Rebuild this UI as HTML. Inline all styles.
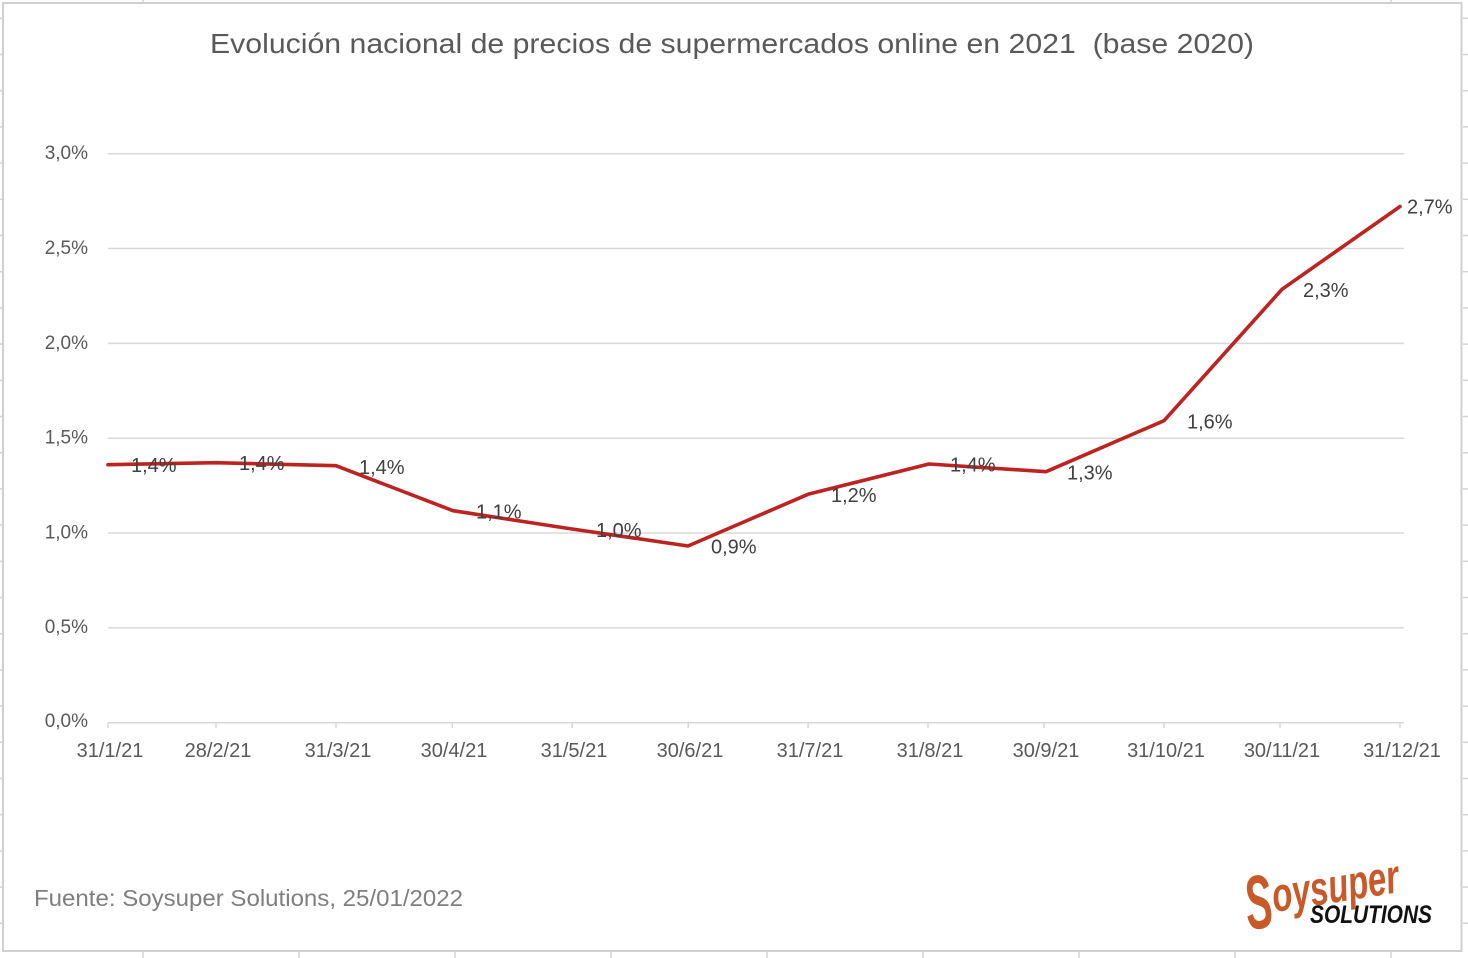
<!DOCTYPE html>
<html>
<head>
<meta charset="utf-8">
<style>
html,body{margin:0;padding:0;background:#fff;}
svg{display:block;}
text{font-family:"Liberation Sans",sans-serif;}
</style>
</head>
<body>
<svg width="1468" height="958" viewBox="0 0 1468 958" xmlns="http://www.w3.org/2000/svg">
<rect x="0" y="0" width="1468" height="958" fill="#fff"/>
<!-- spreadsheet grid stubs outside chart -->
<g stroke="#d4d4d4" stroke-width="1.5">
  <line x1="143" y1="0" x2="143" y2="3"/>
  <line x1="1391" y1="0" x2="1391" y2="3"/>
  <line x1="143" y1="952" x2="143" y2="958"/>
  <line x1="299" y1="952" x2="299" y2="958"/>
  <line x1="455" y1="952" x2="455" y2="958"/>
  <line x1="611" y1="952" x2="611" y2="958"/>
  <line x1="767" y1="952" x2="767" y2="958"/>
  <line x1="923" y1="952" x2="923" y2="958"/>
  <line x1="1079" y1="952" x2="1079" y2="958"/>
  <line x1="1235" y1="952" x2="1235" y2="958"/>
  <line x1="1391" y1="952" x2="1391" y2="958"/>
  <g>
    <line x1="0" y1="18.3" x2="3" y2="18.3"/><line x1="1463" y1="18.3" x2="1468" y2="18.3"/>
    <line x1="0" y1="54.5" x2="3" y2="54.5"/><line x1="1463" y1="54.5" x2="1468" y2="54.5"/>
    <line x1="0" y1="90.7" x2="3" y2="90.7"/><line x1="1463" y1="90.7" x2="1468" y2="90.7"/>
    <line x1="0" y1="126.9" x2="3" y2="126.9"/><line x1="1463" y1="126.9" x2="1468" y2="126.9"/>
    <line x1="0" y1="163.1" x2="3" y2="163.1"/><line x1="1463" y1="163.1" x2="1468" y2="163.1"/>
    <line x1="0" y1="199.3" x2="3" y2="199.3"/><line x1="1463" y1="199.3" x2="1468" y2="199.3"/>
    <line x1="0" y1="235.5" x2="3" y2="235.5"/><line x1="1463" y1="235.5" x2="1468" y2="235.5"/>
    <line x1="0" y1="271.7" x2="3" y2="271.7"/><line x1="1463" y1="271.7" x2="1468" y2="271.7"/>
    <line x1="0" y1="307.9" x2="3" y2="307.9"/><line x1="1463" y1="307.9" x2="1468" y2="307.9"/>
    <line x1="0" y1="344.1" x2="3" y2="344.1"/><line x1="1463" y1="344.1" x2="1468" y2="344.1"/>
    <line x1="0" y1="380.3" x2="3" y2="380.3"/><line x1="1463" y1="380.3" x2="1468" y2="380.3"/>
    <line x1="0" y1="416.5" x2="3" y2="416.5"/><line x1="1463" y1="416.5" x2="1468" y2="416.5"/>
    <line x1="0" y1="452.7" x2="3" y2="452.7"/><line x1="1463" y1="452.7" x2="1468" y2="452.7"/>
    <line x1="0" y1="488.9" x2="3" y2="488.9"/><line x1="1463" y1="488.9" x2="1468" y2="488.9"/>
    <line x1="0" y1="525.1" x2="3" y2="525.1"/><line x1="1463" y1="525.1" x2="1468" y2="525.1"/>
    <line x1="0" y1="561.3" x2="3" y2="561.3"/><line x1="1463" y1="561.3" x2="1468" y2="561.3"/>
    <line x1="0" y1="597.5" x2="3" y2="597.5"/><line x1="1463" y1="597.5" x2="1468" y2="597.5"/>
    <line x1="0" y1="633.7" x2="3" y2="633.7"/><line x1="1463" y1="633.7" x2="1468" y2="633.7"/>
    <line x1="0" y1="669.9" x2="3" y2="669.9"/><line x1="1463" y1="669.9" x2="1468" y2="669.9"/>
    <line x1="0" y1="706.1" x2="3" y2="706.1"/><line x1="1463" y1="706.1" x2="1468" y2="706.1"/>
    <line x1="0" y1="742.3" x2="3" y2="742.3"/><line x1="1463" y1="742.3" x2="1468" y2="742.3"/>
    <line x1="0" y1="778.5" x2="3" y2="778.5"/><line x1="1463" y1="778.5" x2="1468" y2="778.5"/>
    <line x1="0" y1="814.7" x2="3" y2="814.7"/><line x1="1463" y1="814.7" x2="1468" y2="814.7"/>
    <line x1="0" y1="850.9" x2="3" y2="850.9"/><line x1="1463" y1="850.9" x2="1468" y2="850.9"/>
    <line x1="0" y1="887.1" x2="3" y2="887.1"/><line x1="1463" y1="887.1" x2="1468" y2="887.1"/>
    <line x1="0" y1="923.3" x2="3" y2="923.3"/><line x1="1463" y1="923.3" x2="1468" y2="923.3"/>
  </g>
</g>
<!-- chart border -->
<rect x="3" y="3" width="1458.5" height="948" fill="#fff" stroke="#d0d0d0" stroke-width="2"/>

<!-- title -->
<text x="210" y="53" font-size="28" fill="#595959" textLength="1044" lengthAdjust="spacingAndGlyphs" xml:space="preserve">Evolución nacional de precios de supermercados online en 2021  (base 2020)</text>

<!-- gridlines -->
<g stroke="#d9d9d9" stroke-width="1.5">
  <line x1="108" y1="153.7" x2="1404" y2="153.7"/>
  <line x1="108" y1="248.5" x2="1404" y2="248.5"/>
  <line x1="108" y1="343.4" x2="1404" y2="343.4"/>
  <line x1="108" y1="438.2" x2="1404" y2="438.2"/>
  <line x1="108" y1="533.0" x2="1404" y2="533.0"/>
  <line x1="108" y1="627.9" x2="1404" y2="627.9"/>
  <line x1="108" y1="722.7" x2="1404" y2="722.7"/>
</g>
<!-- ticks -->
<g stroke="#d9d9d9" stroke-width="1.5">
  <line x1="108" y1="722.7" x2="108" y2="728"/>
  <line x1="216" y1="722.7" x2="216" y2="728"/>
  <line x1="336" y1="722.7" x2="336" y2="728"/>
  <line x1="452.3" y1="722.7" x2="452.3" y2="728"/>
  <line x1="572.2" y1="722.7" x2="572.2" y2="728"/>
  <line x1="688.2" y1="722.7" x2="688.2" y2="728"/>
  <line x1="808.1" y1="722.7" x2="808.1" y2="728"/>
  <line x1="928" y1="722.7" x2="928" y2="728"/>
  <line x1="1044" y1="722.7" x2="1044" y2="728"/>
  <line x1="1164" y1="722.7" x2="1164" y2="728"/>
  <line x1="1280" y1="722.7" x2="1280" y2="728"/>
  <line x1="1400" y1="722.7" x2="1400" y2="728"/>
</g>

<!-- y labels -->
<g font-size="19" fill="#595959" text-anchor="end">
  <text x="88" y="159">3,0%</text>
  <text x="88" y="254">2,5%</text>
  <text x="88" y="349">2,0%</text>
  <text x="88" y="443.5">1,5%</text>
  <text x="88" y="538.5">1,0%</text>
  <text x="88" y="633">0,5%</text>
  <text x="88" y="727">0,0%</text>
</g>

<!-- x labels -->
<g font-size="20" fill="#595959" text-anchor="middle">
  <text x="110" y="757">31/1/21</text>
  <text x="218" y="757">28/2/21</text>
  <text x="338" y="757">31/3/21</text>
  <text x="454" y="757">30/4/21</text>
  <text x="574" y="757">31/5/21</text>
  <text x="690" y="757">30/6/21</text>
  <text x="810" y="757">31/7/21</text>
  <text x="930" y="757">31/8/21</text>
  <text x="1046" y="757">30/9/21</text>
  <text x="1166" y="757">31/10/21</text>
  <text x="1282" y="757">30/11/21</text>
  <text x="1402" y="757">31/12/21</text>
</g>

<!-- series -->
<polyline fill="none" stroke="#BD2320" stroke-width="3.6" stroke-linejoin="round" stroke-linecap="round"
  points="108,464.7 216,462.7 336,465.7 453,510.7 572,529 688,546 808,494.3 929,464 1046,471.7 1164,420.7 1282,289.3 1400,206.5"/>

<!-- data labels -->
<g font-size="20" fill="#404040">
  <text x="131" y="472">1,4%</text>
  <text x="239" y="470">1,4%</text>
  <text x="359" y="474">1,4%</text>
  <text x="476" y="518.5">1,1%</text>
  <text x="596" y="537">1,0%</text>
  <text x="711" y="553.5">0,9%</text>
  <text x="831" y="502">1,2%</text>
  <text x="950" y="471.5">1,4%</text>
  <text x="1067" y="479.5">1,3%</text>
  <text x="1187" y="428.5">1,6%</text>
  <text x="1303" y="297">2,3%</text>
  <text x="1407" y="213.5">2,7%</text>
</g>

<!-- source -->
<text x="34" y="906" font-size="23" fill="#7f7f7f" textLength="429" lengthAdjust="spacingAndGlyphs">Fuente: Soysuper Solutions, 25/01/2022</text>

<!-- logo -->
<g transform="rotate(-9 1250 930)">
  <text x="1249" y="930" font-size="76" font-weight="bold" font-style="italic" fill="#C85A2A" textLength="27" lengthAdjust="spacingAndGlyphs">S</text>
  <text x="1277" y="916" font-size="48" font-weight="bold" font-style="italic" fill="#C85A2A" textLength="128" lengthAdjust="spacingAndGlyphs">oysuper</text>
</g>
<text x="1310" y="923" font-size="25" font-weight="bold" font-style="italic" fill="#111" textLength="122" lengthAdjust="spacingAndGlyphs">SOLUTIONS</text>
</svg>
</body>
</html>
